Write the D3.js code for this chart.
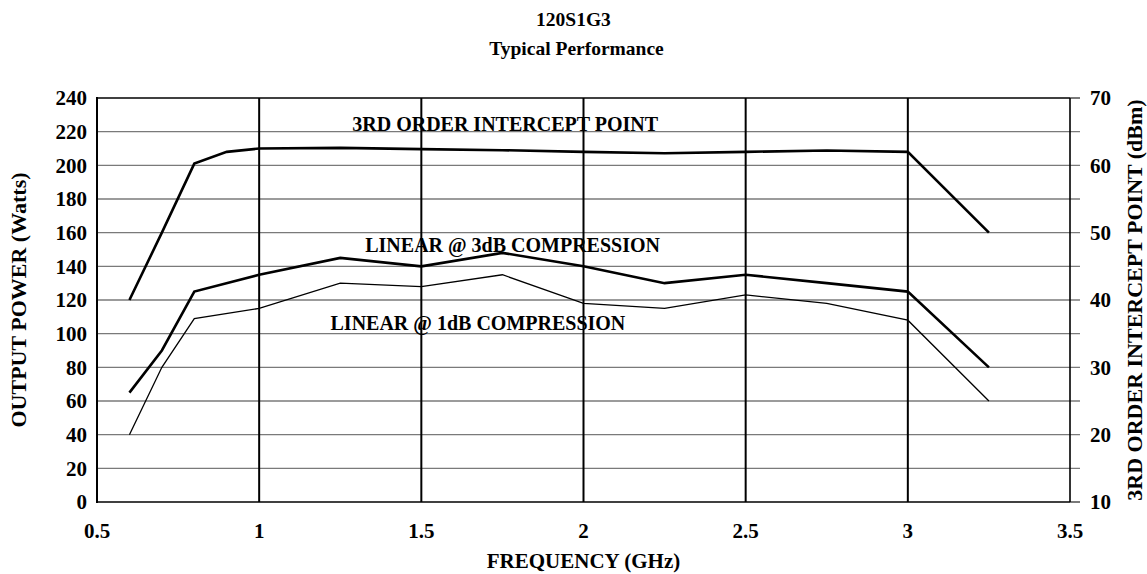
<!DOCTYPE html>
<html>
<head>
<meta charset="utf-8">
<script src="https://cdn.jsdelivr.net/npm/d3@7"></script>
<style>
    body { margin: 0; background: #fff; }
    text { font-family: "Liberation Serif", "Times New Roman", serif; font-weight: bold; fill: #000; }
</style>
</head>
<body>
<div id="chart"></div>
<script>
(function () {

    // frequency points (GHz)
    const freqs = [0.6, 0.7, 0.8, 0.9, 1.0, 1.25, 1.5, 1.75, 2.0, 2.25, 2.5, 2.75, 3.0, 3.25]
    // 3rd order intercept point, dBm (right axis)
    const ip3 = [40, 50, 60.25, 62, 62.5, 62.6, 62.4, 62.25, 62, 61.8, 62, 62.2, 62, 50]
    // output power, Watts (left axis); null = no point at that frequency
    const comp3dB = [65, 90, 125, null, 135, 145, 140, 148, 140, 130, 135, 130, 125, 80]
    const comp1dB = [40, 80, 109, null, 115, 130, 128, 135, 118, 115, 123, 118, 108, 60]

    const xTicks = [0.5, 1, 1.5, 2, 2.5, 3, 3.5]
    const xTickLabels = ["0.5", "1", "1.5", "2", "2.5", "3", "3.5"]
    const leftTicks = [0, 20, 40, 60, 80, 100, 120, 140, 160, 180, 200, 220, 240]
    const rightTicks = [10, 20, 30, 40, 50, 60, 70]

    // series labels, anchored in data units (GHz, Watts)
    const labels = [
        { text: "3RD ORDER INTERCEPT POINT", f: 1.287, w: 220.4 },
        { text: "LINEAR @ 3dB COMPRESSION", f: 1.327, w: 148.5 },
        { text: "LINEAR @ 1dB COMPRESSION", f: 1.22, w: 102 }
    ]

    const width = 1147, height = 574
    const m = { left: 97, right: 77, top: 98, bottom: 72 }

    const svg = d3.select("#chart").append("svg")
        .attr("width", width)
        .attr("height", height)

    const x = d3.scaleLinear().domain([0.5, 3.5]).range([m.left, width - m.right])
    const y = d3.scaleLinear().domain([0, 240]).range([height - m.bottom, m.top])
    const yR = d3.scaleLinear().domain([10, 70]).range([height - m.bottom, m.top])

    // horizontal grid, running out past the right axis as its ticks
    svg.append("g")
        .selectAll("line")
        .data(leftTicks)
        .enter()
        .append("line")
        .attr("x1", x(0.5))
        .attr("x2", x(3.5) + 10)
        .attr("y1", d => y(d))
        .attr("y2", d => y(d))
        .attr("stroke", d => (d === 0 || d === 240) ? "#000" : "#7a7a7a")
        .attr("stroke-width", d => (d === 0 || d === 240) ? 1.6 : 1.4)

    svg.append("g")
        .selectAll("line")
        .data([0, 240])
        .enter()
        .append("line")
        .attr("x1", x(3.5))
        .attr("x2", x(3.5) + 10)
        .attr("y1", d => y(d))
        .attr("y2", d => y(d))
        .attr("stroke", "#888")
        .attr("stroke-width", 1.6)

    // vertical grid
    svg.append("g")
        .selectAll("line")
        .data(xTicks.slice(1, -1))
        .enter()
        .append("line")
        .attr("x1", d => x(d))
        .attr("x2", d => x(d))
        .attr("y1", y(0))
        .attr("y2", y(240))
        .attr("stroke", "#000")
        .attr("stroke-width", 2)

    // left and right axis lines
    svg.append("line")
        .attr("x1", x(0.5)).attr("x2", x(0.5))
        .attr("y1", y(0) + 1).attr("y2", y(240) - 1)
        .attr("stroke", "#000").attr("stroke-width", 2)
    svg.append("line")
        .attr("x1", x(3.5)).attr("x2", x(3.5))
        .attr("y1", y(0)).attr("y2", y(240))
        .attr("stroke", "#000").attr("stroke-width", 1.6)

    // tick labels
    svg.append("g")
        .selectAll("text")
        .data(leftTicks)
        .enter()
        .append("text")
        .attr("x", m.left - 10)
        .attr("y", d => y(d))
        .attr("dy", "0.35em")
        .attr("text-anchor", "end")
        .style("font-size", "21px")
        .text(d => d)

    svg.append("g")
        .selectAll("text")
        .data(rightTicks)
        .enter()
        .append("text")
        .attr("x", x(3.5) + 20)
        .attr("y", d => yR(d))
        .attr("dy", "0.35em")
        .style("font-size", "21px")
        .text(d => d)

    svg.append("g")
        .selectAll("text")
        .data(xTicks)
        .enter()
        .append("text")
        .attr("x", d => x(d))
        .attr("y", y(0) + 36)
        .attr("text-anchor", "middle")
        .style("font-size", "21px")
        .text((d, i) => xTickLabels[i])

    // series
    const lineW = d3.line().x(d => x(d[0])).y(d => y(d[1]))
    const lineR = d3.line().x(d => x(d[0])).y(d => yR(d[1]))
    const pairs = vals => freqs.map((f, i) => [f, vals[i]]).filter(d => d[1] !== null)

    svg.append("path")
        .attr("d", lineR(pairs(ip3)))
        .attr("fill", "none").attr("stroke", "#000").attr("stroke-width", 2.6)
    svg.append("path")
        .attr("d", lineW(pairs(comp3dB)))
        .attr("fill", "none").attr("stroke", "#000").attr("stroke-width", 2.6)
    svg.append("path")
        .attr("d", lineW(pairs(comp1dB)))
        .attr("fill", "none").attr("stroke", "#000").attr("stroke-width", 1.3)

    // series labels
    svg.append("g")
        .selectAll("text")
        .data(labels)
        .enter()
        .append("text")
        .attr("x", d => x(d.f))
        .attr("y", d => y(d.w))
        .style("font-size", "20px")
        .text(d => d.text)

    // titles
    svg.append("text")
        .attr("x", width / 2).attr("y", 26)
        .attr("text-anchor", "middle")
        .style("font-size", "19.5px")
        .text("120S1G3")
    svg.append("text")
        .attr("x", width / 2 + 3).attr("y", 55)
        .attr("text-anchor", "middle")
        .style("font-size", "19.5px")
        .text("Typical Performance")

    svg.append("text")
        .attr("x", (x(0.5) + x(3.5)) / 2).attr("y", 568)
        .attr("text-anchor", "middle")
        .style("font-size", "21px")
        .text("FREQUENCY (GHz)")

    svg.append("text")
        .attr("transform", `translate(26,${(y(0) + y(240)) / 2}) rotate(-90)`)
        .attr("text-anchor", "middle")
        .style("font-size", "22px")
        .text("OUTPUT POWER (Watts)")

    svg.append("text")
        .attr("transform", `translate(1142,${(y(0) + y(240)) / 2}) rotate(-90)`)
        .attr("text-anchor", "middle")
        .style("font-size", "22px")
        .text("3RD ORDER INTERCEPT POINT (dBm)")

})()
</script>
</body>
</html>
